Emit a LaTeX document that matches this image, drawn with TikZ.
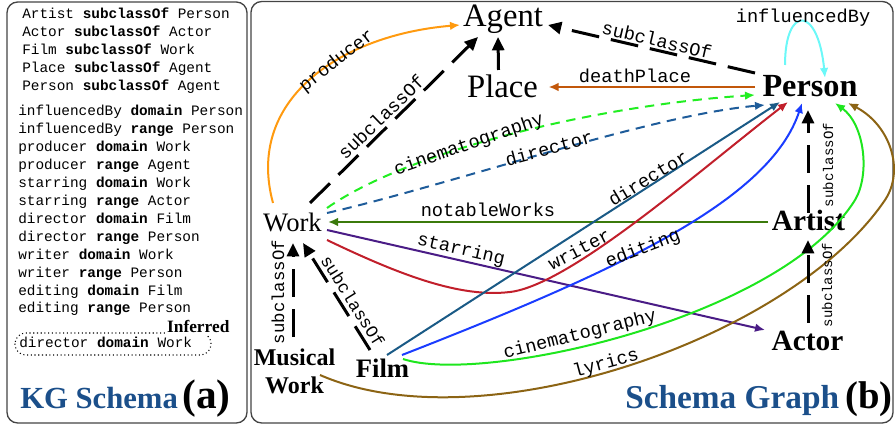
\documentclass[tikz,border=0pt]{standalone}
\usepackage{fontspec}
\setmainfont{Liberation Serif}
\setmonofont{Liberation Mono}
\usetikzlibrary{arrows.meta,calc}
\definecolor{cProd}{HTML}{FF9A0F}
\definecolor{cDeath}{HTML}{C2570A}
\definecolor{cInfl}{HTML}{6CF8F8}
\definecolor{cGreenD}{HTML}{22EE22}
\definecolor{cGreen}{HTML}{1EE61E}
\definecolor{cDirD}{HTML}{1E5C9A}
\definecolor{cNot}{HTML}{3B7A0B}
\definecolor{cStar}{HTML}{4A1C86}
\definecolor{cWri}{HTML}{C11F2B}
\definecolor{cDir}{HTML}{1A5A86}
\definecolor{cEdit}{HTML}{1A3CFF}
\definecolor{cLyr}{HTML}{8C6414}
\definecolor{cTitle}{HTML}{1B4F8A}
\definecolor{cBox}{HTML}{444444}
\begin{document}
\begin{tikzpicture}[x=0.75pt,y=-0.75pt,
  sch/.style={anchor=base west,inner sep=0pt,font=\ttfamily\fontsize{10.8}{12}\selectfont},
  lbl/.style={inner sep=0pt,font=\ttfamily\fontsize{14}{14}\selectfont},
  lbls/.style={inner sep=0pt,font=\ttfamily\fontsize{10.5}{11}\selectfont},
  lblm/.style={inner sep=0pt,font=\ttfamily\fontsize{13}{13}\selectfont},
  cls/.style={inner sep=0pt,anchor=base},
  blk/.style={line width=2.25pt,dash pattern=on 21pt off 9pt,-{Triangle[length=10pt,width=9pt]}},
  col/.style={line width=1.5pt,-{Latex[length=7.5pt,width=6.5pt]}},
  dsh/.style={col,dash pattern=on 7pt off 5pt}]
\path[use as bounding box] (0,0) rectangle (895,427);
% panels
\draw[cBox,line width=1pt,rounded corners=8pt] (7,2) rectangle (247,423);
\draw[cBox,line width=1pt,rounded corners=8pt] (251,1.5) rectangle (893,423);
% left schema text
\node[sch] (s1) at (22,19) {Artist \textbf{subclassOf} Person};
\node[sch] (s2) at (22,37) {Actor \textbf{subclassOf} Actor};
\node[sch] (s3) at (22,55) {Film \textbf{subclassOf} Work};
\node[sch] (s4) at (22,73) {Place \textbf{subclassOf} Agent};
\node[sch] (s5) at (22,91) {Person \textbf{subclassOf} Agent};
\node[sch] (t1) at (18,116) {influencedBy \textbf{domain} Person};
\node[sch] (t2) at (18,134) {influencedBy \textbf{range} Person};
\node[sch] (t3) at (18,152) {producer \textbf{domain} Work};
\node[sch] (t4) at (18,170) {producer \textbf{range} Agent};
\node[sch] (t5) at (18,188) {starring \textbf{domain} Work};
\node[sch] (t6) at (18,206) {starring \textbf{range} Actor};
\node[sch] (t7) at (18,224) {director \textbf{domain} Film};
\node[sch] (t8) at (18,242) {director \textbf{range} Person};
\node[sch] (t9) at (18,260) {writer \textbf{domain} Work};
\node[sch] (t10) at (18,278) {writer \textbf{range} Person};
\node[sch] (t11) at (18,296) {editing \textbf{domain} Film};
\node[sch] (t12) at (18,313) {editing \textbf{range} Person};
\draw[dotted,line width=0.8pt,rounded corners=8pt] (15,333) rectangle (211,355);
\node[anchor=base east,inner sep=1pt,fill=white,font=\bfseries\fontsize{13}{13}\selectfont] (inf) at (231,333) {Inferred};
\node[sch] (tinf) at (19,348) {director \textbf{domain} Work};
\node[anchor=base west,inner sep=0pt,text=cTitle,font=\bfseries\fontsize{23}{23}\selectfont] (kgt) at (20,408) {KG Schema};
\node[anchor=base west,inner sep=0pt,font=\bfseries\fontsize{31}{31}\selectfont] (kga) at (182,408) {(a)};
\node[anchor=base west,inner sep=0pt,text=cTitle,font=\bfseries\fontsize{25}{25}\selectfont] (sgt) at (625,408) {Schema Graph};
\node[anchor=base west,inner sep=0pt,font=\bfseries\fontsize{29}{29}\selectfont] (sgb) at (845,408) {(b)};
% classes
\node[cls,font=\fontsize{24.5}{26}\selectfont] (Agent) at (503,27) {Agent};
\node[cls,font=\fontsize{24.5}{26}\selectfont] (Place) at (502.5,98) {Place};
\node[cls,font=\bfseries\fontsize{24.2}{26}\selectfont] (Person) at (810,97) {Person};
\node[cls,font=\fontsize{20}{22}\selectfont] (Work) at (292.5,232) {Work};
\node[cls,font=\bfseries\fontsize{22}{24}\selectfont] (Artist) at (808.5,231) {Artist};
\node[cls,font=\bfseries\fontsize{22}{24}\selectfont] (Actor) at (807.5,350) {Actor};
\node[inner sep=0pt,align=center,font=\bfseries\fontsize{18}{21}\selectfont] (MW) at (294.5,371) {Musical\\Work};
\node[cls,font=\bfseries\fontsize{20}{22}\selectfont] (Film) at (382.5,377) {Film};
% edges
\draw[col,cProd] ($(Work.base)+(-19.5,-29)$) .. controls (245,100) and (340,35) .. ($(Agent.base)+(-43,-2)$);
\draw[blk] ($(Work.base)+(17.5,-29)$) -- ($(Agent.base)+(-25,10)$);
\draw[line width=2.25pt,-{Triangle[length=10pt,width=9pt]}] ($(Place.base)+(-4,-28)$) -- ($(Agent.base)+(-5,10)$);
\draw[blk] ($(Person.base)+(-55,-24)$) -- ($(Agent.base)+(45,-2)$);
\draw[col,cDeath] ($(Person.base)+(-55,-10)$) -- ($(Place.base)+(46,-11)$);
\draw[col,cInfl] ($(Person.base)+(-25,-32)$) .. controls (785,5) and (818,5) .. ($(Person.base)+(15,-19)$);
\draw[dsh,cGreenD] ($(Work.base)+(34.5,-24)$) .. controls (410,150) and (600,105) .. ($(Person.base)+(-55,-2)$);
\draw[dsh,cDirD] ($(Work.base)+(34.5,-19)$) .. controls (450,185) and (650,115) .. ($(Person.base)+(-45,8)$);
\draw[col,cNot] ($(Artist.base)+(-40.5,-9)$) -- ($(Work.base)+(35.5,-10)$);
\draw[col,cStar] ($(Work.base)+(34.5,-2)$) -- ($(Actor.base)+(-42.5,-20)$);
\draw[col,cWri] ($(Work.base)+(34.5,8)$) .. controls (400,275) and (460,298) .. (510,292) .. controls (570,285) and (700,170) .. ($(Person.base)+(-22,5)$);
\draw[col,cDir] ($(Film.base)+(4.5,-22)$) -- ($(Person.base)+(-30,5)$);
\draw[col,cEdit] ($(Film.base)+(19.5,-22)$) .. controls (620,270) and (770,200) .. ($(Person.base)+(-8,6)$);
\draw[col,cGreen] ($(Film.base)+(20.5,-18)$) .. controls (480,385) and (780,320) .. (855,200) .. controls (870,175) and (865,125) .. ($(Person.base)+(25,6)$);
\draw[col,cLyr] ($(MW.center)+(25.5,4)$) .. controls (480,445) and (790,340) .. (885,200) .. controls (905,170) and (890,125) .. ($(Person.base)+(38,6)$);
\draw[blk] ($(Artist.base)+(-0.5,-18)$) -- ($(Person.base)+(-2,13)$);
\draw[blk] ($(Actor.base)+(0.5,-27)$) -- ($(Artist.base)+(-0.5,9)$);
\draw[blk] ($(MW.center)+(-1.5,-34)$) -- ($(Work.base)+(0.5,11)$);
\draw[blk] ($(Film.base)+(-12.5,-27)$) -- ($(Work.base)+(10.5,11)$);
% labels
\node[lbl,rotate=38] (lProd) at (337,61) {producer};
\node[lbl,rotate=44] (lSubWA) at (381,117) {subclassOf};
\node[lbl,rotate=-13] (lSubPA) at (657,40) {subclassOf};
\node[lbl,anchor=base] (lDeath) at (635,83) {deathPlace};
\node[lbl,anchor=base] (lInfl) at (803,23) {influencedBy};
\node[lbl,rotate=19] (lCinD) at (469,145) {cinematography};
\node[lbl,rotate=15] (lDirD) at (549,148) {director};
\node[lbl,anchor=base] (lNot) at (488,217) {notableWorks};
\node[lbl,rotate=-13] (lStar) at (461,250) {starring};
\node[lbl,rotate=27] (lWri) at (579,249) {writer};
\node[lbl,rotate=31] (lDir) at (648,178) {director};
\node[lbl,rotate=21] (lEdit) at (643,249) {editing};
\node[lbl,rotate=14] (lCin) at (580,335) {cinematography};
\node[lbl,rotate=15] (lLyr) at (606,364) {lyrics};
\node[lbls,rotate=90] (lSubAP) at (828,165) {subclassOf};
\node[lbls,rotate=90] (lSubAA) at (827,285) {subclassOf};
\node[lblm,rotate=90] (lSubMW) at (278,292) {subclassOf};
\node[lblm,rotate=-58] (lSubFW) at (353,301) {subclassOf};
\end{tikzpicture}
\end{document}
